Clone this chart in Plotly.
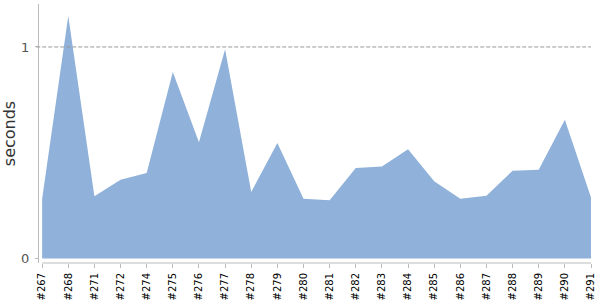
import plotly.graph_objects as go

builds = ["#267", "#268", "#271", "#272", "#274", "#275", "#276", "#277", "#278", "#279", "#280",
          "#281", "#282", "#283", "#284", "#285", "#286", "#287", "#288", "#289", "#290", "#291"]
seconds = [0.283, 1.146, 0.294, 0.373, 0.404, 0.882, 0.55, 0.989, 0.315, 0.546, 0.283,
           0.275, 0.428, 0.435, 0.517, 0.365, 0.283, 0.297, 0.415, 0.420, 0.656, 0.289]
y_ticks = [0, 1]

xs = list(range(len(builds)))
axis_col = "#bbbbbb"

fig = go.Figure()
fig.add_trace(go.Scatter(
    x=xs, y=seconds, mode="lines", fill="tozeroy",
    line=dict(width=0, color="rgb(143,177,218)"),
    fillcolor="rgb(143,177,218)", hoverinfo="skip", showlegend=False,
))
# dotted reference line at 1 second
fig.add_shape(type="line", xref="paper", x0=-0.005, x1=1, yref="y", y0=1, y1=1,
              line=dict(color="#999999", width=1, dash="4px,2px"))
# x axis baseline (starts at the first category)
fig.add_shape(type="line", xref="x", x0=0, x1=len(builds) - 1, yref="paper", y0=0, y1=0,
              line=dict(color=axis_col, width=1))

fig.update_layout(
    width=600, height=300,
    margin=dict(l=39, r=9, t=4, b=37),
    paper_bgcolor="white", plot_bgcolor="white",
    font=dict(family="DejaVu Sans"),
    xaxis=dict(
        range=[-0.12, len(builds) - 1], tickmode="array", tickvals=xs, ticktext=builds,
        tickangle=-90, tickfont=dict(size=10, color="black"),
        showgrid=False, zeroline=False, showline=False, automargin=False,
        ticks="outside", ticklen=4, tickcolor=axis_col, ticklabelstandoff=1,
    ),
    yaxis=dict(
        range=[-0.021, 1.203], tickmode="array", tickvals=y_ticks,
        tickfont=dict(size=13, color="#555555"), automargin=False,
        showgrid=False, zeroline=False, showline=True, linecolor=axis_col,
        ticks="outside", ticklen=3, tickcolor=axis_col, ticklabelstandoff=3,
        title=dict(text="seconds", font=dict(size=16, color="#333333"), standoff=12),
    ),
)
fig.write_html("out.html")
